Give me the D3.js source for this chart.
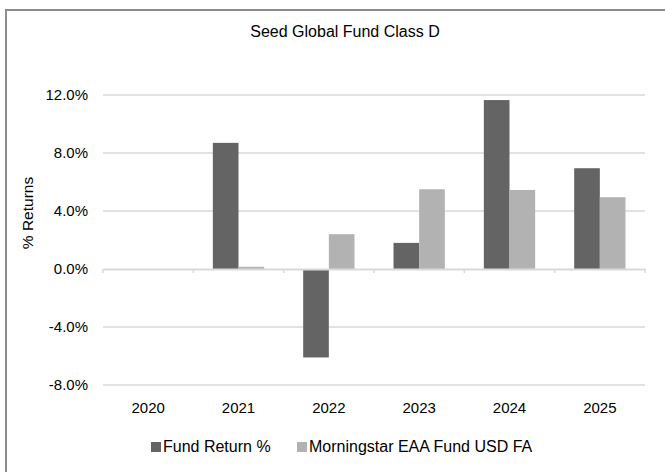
<!DOCTYPE html>
<html>
<head>
<meta charset="utf-8">
<script src="https://cdn.jsdelivr.net/npm/d3@7"></script>
<style>
  body { margin: 0; background: #fff; }
  svg { display: block; font-family: "Liberation Sans", Arial, sans-serif; }
  .grid line { stroke: #d9d9d9; stroke-width: 1.5; }
  .axis text { fill: #000; font-size: 15px; }
</style>
</head>
<body>
<svg width="665" height="472"></svg>
<script>
var years = ["2020", "2021", "2022", "2023", "2024", "2025"];
var seriesNames = ["Fund Return %", "Morningstar EAA Fund USD FA"];
var fundReturn = [0, 8.7, -6.1, 1.8, 11.65, 6.95];
var morningstar = [0, 0.15, 2.4, 5.5, 5.45, 4.95];
var yTicks = [-8, -4, 0, 4, 8, 12];
var colors = ["#646464", "#b2b2b2"];

var svg = d3.select("svg");

var margin = { top: 95, right: 20, bottom: 87, left: 103 },
  width = 645 - margin.left,
  height = 385 - margin.top;

// outer frame (clipped at right/bottom like the source)
svg.append("rect")
  .attr("x", 6).attr("y", 10)
  .attr("width", 720).attr("height", 520)
  .attr("fill", "none")
  .attr("stroke", "#8c8c8c")
  .attr("stroke-width", 2);

svg.append("text")
  .attr("x", 345).attr("y", 37)
  .attr("text-anchor", "middle")
  .style("font-size", "16px")
  .text("Seed Global Fund Class D");

var g = svg.append("g")
  .attr("transform", "translate(" + margin.left + "," + margin.top + ")");

var x0 = d3.scaleBand().domain(years).range([0, width]);
var off = x0.bandwidth() * 0.216;
var x1 = d3.scaleBand().domain(seriesNames).range([off, x0.bandwidth() - off]);

var y = d3.scaleLinear().domain([-8, 12]).range([height, 0]);

// gridlines
g.append("g")
  .attr("class", "grid")
  .selectAll("line")
  .data(yTicks.filter(function (d) { return d !== 0; }))
  .enter().append("line")
  .attr("x1", 0).attr("x2", width)
  .attr("y1", function (d) { return y(d); })
  .attr("y2", function (d) { return y(d); });

// y tick labels (plain hyphen for negatives, like the source)
var fmt = d3.formatLocale({ decimal: ".", thousands: ",", grouping: [3], currency: ["", ""], minus: "-" }).format(".1f");
g.append("g")
  .attr("class", "axis axis--y")
  .call(d3.axisLeft(y).tickValues(yTicks).tickSize(0).tickPadding(15)
    .tickFormat(function (d) { return fmt(d) + "%"; }))
  .call(function (a) { a.select(".domain").remove(); });

var data = years.map(function (yr, i) {
  return { year: yr, values: [fundReturn[i], morningstar[i]] };
});

var groups = g.append("g").selectAll("g")
  .data(data)
  .enter().append("g")
  .attr("transform", function (d) { return "translate(" + x0(d.year) + ",0)"; });

groups.selectAll("rect")
  .data(function (d) { return d.values.map(function (v, k) { return { key: seriesNames[k], value: v, k: k }; }); })
  .enter().append("rect")
  .attr("x", function (d) { return x1(d.key); })
  .attr("width", x1.bandwidth())
  .attr("y", function (d) { return y(Math.max(0, d.value)); })
  .attr("height", function (d) { return Math.abs(y(d.value) - y(0)); })
  .attr("fill", function (d) { return colors[d.k]; });

// x axis at zero with tick marks pointing down
g.append("g")
  .attr("class", "axis axis--x")
  .attr("transform", "translate(0," + y(0) + ")")
  .call(d3.axisBottom(x0).tickSize(0).tickFormat(""))
  .call(function (a) {
    a.select(".domain").attr("stroke", "#d9d9d9").attr("stroke-width", 2);
    a.selectAll(".tick").remove();
  });

g.append("g")
  .selectAll("line")
  .data(d3.range(years.length + 1))
  .enter().append("line")
  .attr("x1", function (i) { return i * x0.step(); })
  .attr("x2", function (i) { return i * x0.step(); })
  .attr("y1", y(0)).attr("y2", y(0) + 4)
  .attr("stroke", "#d9d9d9").attr("stroke-width", 1.5);

// category labels below the plot
g.append("g")
  .attr("class", "axis")
  .selectAll("text")
  .data(years)
  .enter().append("text")
  .attr("x", function (d) { return x0(d) + x0.bandwidth() / 2; })
  .attr("y", height + 28)
  .attr("text-anchor", "middle")
  .text(function (d) { return d; });

// y title
svg.append("text")
  .attr("transform", "translate(33,213) rotate(-90)")
  .attr("text-anchor", "middle")
  .style("font-size", "15.5px")
  .text("% Returns");

// legend
var legendX = [151, 297];
var legend = svg.append("g").selectAll("g")
  .data(seriesNames)
  .enter().append("g")
  .attr("transform", function (d, i) { return "translate(" + legendX[i] + ",442)"; });

legend.append("rect")
  .attr("width", 10).attr("height", 10)
  .attr("fill", function (d, i) { return colors[i]; });

legend.append("text")
  .attr("x", 12).attr("y", 10)
  .style("font-size", "16px")
  .text(function (d) { return d; });
</script>
</body>
</html>
